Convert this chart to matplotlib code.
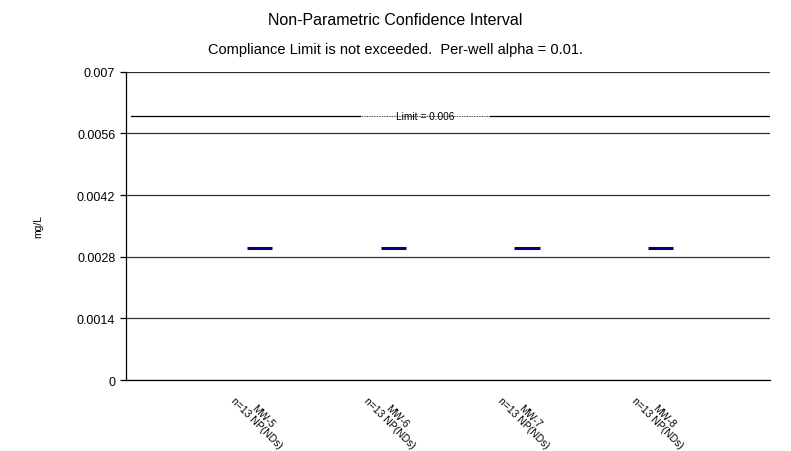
import matplotlib.pyplot as plt

plt.rcParams['font.family'] = ['Liberation Sans', 'DejaVu Sans']

wells = ['MW-5', 'MW-6', 'MW-7', 'MW-8']
n_obs = [13, 13, 13, 13]
methods = ['NP(NDs)', 'NP(NDs)', 'NP(NDs)', 'NP(NDs)']
upper = [0.003, 0.003, 0.003, 0.003]
limit = 0.006
yticks = [0, 0.0014, 0.0028, 0.0042, 0.0056, 0.007]

fig = plt.figure(figsize=(7.91, 4.52), dpi=100)
ax = fig.add_axes([0.159, 0.157, 0.815, 0.682])

xs = list(range(1, len(wells) + 1))
ax.hlines(upper, [x - 0.095 for x in xs], [x + 0.095 for x in xs],
          colors='#000080', linewidth=2.2, zorder=3)

# limit line with its label in the middle
ax.plot([0.04, 1.75], [limit, limit], color='black', lw=0.9)
ax.plot([2.72, 4.82], [limit, limit], color='black', lw=0.9)
ax.plot([1.75, 2.72], [limit, limit], color='black', lw=0.6, ls=(0, (1, 1)))
ax.text(2.24, limit, 'Limit = 0.006', fontsize=7.3, ha='center', va='center')

for y in yticks:
    ax.axhline(y, color='#303030', lw=0.9, zorder=1)

ax.set_xlim(0, 4.82)
ax.set_ylim(0, 0.007)
ax.set_yticks(yticks)
ax.set_yticklabels(['0', '0.0014', '0.0028', '0.0042', '0.0056', '0.007'], fontsize=9)
ax.tick_params(axis='y', direction='out', length=4, width=0.9)
ax.tick_params(axis='x', length=0, pad=6)
ax.set_xticks(xs)
ax.set_xticklabels([f'{w}\nn={n} {m}' for w, n, m in zip(wells, n_obs, methods)],
                   rotation=-45, ha='center', va='top', fontsize=7.5, linespacing=0.9)
for s in ['top', 'right']:
    ax.spines[s].set_visible(False)
ax.spines['left'].set_linewidth(0.9)
ax.spines['bottom'].set_linewidth(0.9)

ax.set_ylabel('mg/L', fontsize=7.5, labelpad=24)

fig.text(0.5, 0.955, 'Non-Parametric Confidence Interval', ha='center', va='center', fontsize=11.5)
fig.text(0.5, 0.89, 'Compliance Limit is not exceeded.  Per-well alpha = 0.01.',
         ha='center', va='center', fontsize=10.5)

fig.savefig('out.png')
